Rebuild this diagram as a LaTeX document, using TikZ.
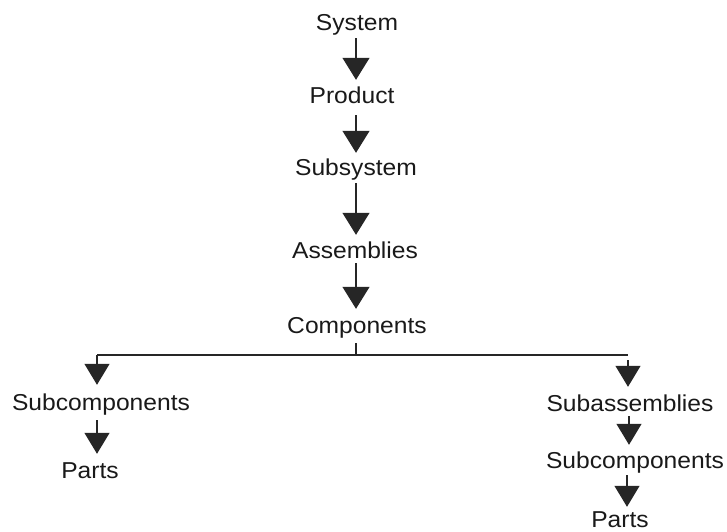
\documentclass[tikz,border=0pt]{standalone}
\usepackage{fontspec}
\setmainfont[FakeStretch=1.07]{Liberation Sans}
\usetikzlibrary{arrows.meta}
\begin{document}
\begin{tikzpicture}[x=1pt,y=-1pt,
  lbl/.style={font=\fontsize{23}{27}\selectfont, inner sep=0pt, anchor=base,
    text height=16.5pt, text depth=5pt, text=black!90},
  ln/.style={line width=1.2pt, draw=black!85},
  arrbig/.style={ln, -{Triangle[width=27pt,length=22pt]}},
  arrsmall/.style={ln, -{Triangle[width=25pt,length=21pt]}}]
\useasboundingbox (0,0) rectangle (727,531);
% nodes
\node[lbl] (system) at (357,30) {System};
\node[lbl] (product) at (352,103) {Product};
\node[lbl] (subsystem) at (356,175) {Subsystem};
\node[lbl] (assemblies) at (355,258) {Assemblies};
\node[lbl] (components) at (357,333) {Components};
\node[lbl] (subL) at (101,410) {Subcomponents};
\node[lbl] (partsL) at (90,478) {Parts};
\node[lbl] (subA) at (630,411) {Subassemblies};
\node[lbl] (subR) at (635,468) {Subcomponents};
\node[lbl, text depth=1pt] (partsR) at (620,527) {Parts};
% helper coordinates
\coordinate (ax) at (356,0);
\coordinate (hl) at (97,355);
\coordinate (hr) at (628,355);
\coordinate (rx1) at (629,0);
\coordinate (rx2) at (627,0);
% main chain
\draw[arrbig, shorten <=3pt, shorten >=6.5pt] (ax |- system.south) -- (ax |- product.north);
\draw[arrbig, shorten <=7pt, shorten >=5.5pt] (ax |- product.south) -- (ax |- subsystem.north);
\draw[arrbig, shorten <=3pt, shorten >=6.5pt] (ax |- subsystem.south) -- (ax |- assemblies.north);
\draw[arrbig, shorten <=0pt, shorten >=7.5pt] (ax |- assemblies.south) -- (ax |- components.north);
% branching
\draw[ln, shorten <=5pt] (ax |- components.south) -- (ax |- hl);
\draw[ln] (hl) -- (hr);
\draw[arrsmall, shorten >=8.5pt] (hl) -- (hl |- subL.north);
\draw[arrsmall, shorten <=5pt, shorten >=7.5pt] (hr) -- (hr |- subA.north);
% left branch
\draw[arrsmall, shorten <=5pt, shorten >=7.5pt] (hl |- subL.south) -- (hl |- partsL.north);
% right branch
\draw[arrsmall, shorten <=0pt, shorten >=6.5pt] (rx1 |- subA.south) -- (rx1 |- subR.north);
\draw[arrsmall, shorten <=2pt, shorten >=3.5pt] (rx2 |- subR.south) -- (rx2 |- partsR.north);
\end{tikzpicture}
\end{document}
